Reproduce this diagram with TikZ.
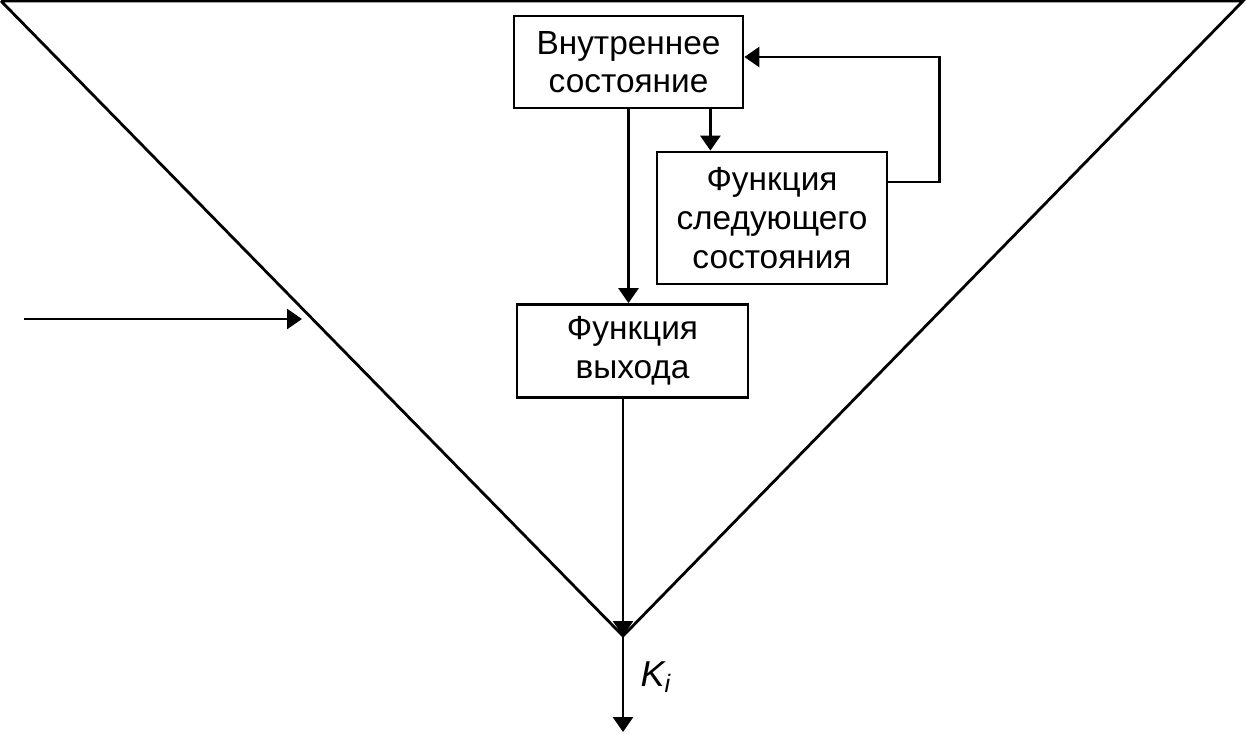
\documentclass[tikz,border=0pt]{standalone}
\usepackage{fontspec}
\setmainfont{Liberation Sans}
\usepackage{xcolor}
\usepackage{tikz}
\usetikzlibrary{math,arrows.meta}

\tikzset{
	blok/.style={draw,line width=1.4pt,rectangle,align=center,inner sep=0pt,
		font=\fontsize{16.7}{19.3}\selectfont},
	pil/.style={line width=1.4pt,-{Triangle[width=10pt,length=7.5pt]}}
}

\begin{document}
\begin{tikzpicture}[x=0.5pt,y=-0.5pt,line width=1.4pt]
\useasboundingbox (0,0) rectangle (1246,734);
\tikzmath{
	\w = 1243;\h = 636;
	\ox = 623;
	{\coordinate (a) at (1,1);};
	{\coordinate (b) at (\w,1);};
	{\coordinate (o) at (\ox,\h);};
	{\draw plot[] coordinates {(a) (b) (o) (a)};};
	%
	{\node[blok,minimum width=114.5pt,minimum height=46pt] (vs) at (628.5,62) {Внутреннее\\состояние};};
	{\node[blok,minimum width=115pt,minimum height=66pt] (fs) at (772,218) {Функция\\следующего\\состояния};};
	{\node[blok,minimum width=115.5pt,minimum height=46.5pt] (fv) at (632.5,351) {Функция\\выхода};};
	%
	{\draw[pil] ([yshift=1pt]vs.south) -- (vs.south |- fv.north);};
	{\draw[pil] ([xshift=-17pt]vs.south east) -- ([xshift=-17pt]vs.south east |- fs.north);};
	{\draw[pil] ([yshift=18pt]fs.east) -- ++(51,0) |- ([yshift=2.5pt]vs.east);};
	%
	{\coordinate (in) at (24,319);};
	{\coordinate (ti) at (302,319);};
	{\draw[pil] (in) -- (ti);};
	%
	{\coordinate (out) at (\ox,732);};
	{\draw[pil] (fv.south -| o) -- (o);};
	{\draw[pil] (o) -- (out);};
	{\node[font=\fontsize{18}{20}\selectfont\itshape] (ki) at (656,677) {K\textsubscript{i}};};
};
\end{tikzpicture}
\end{document}
